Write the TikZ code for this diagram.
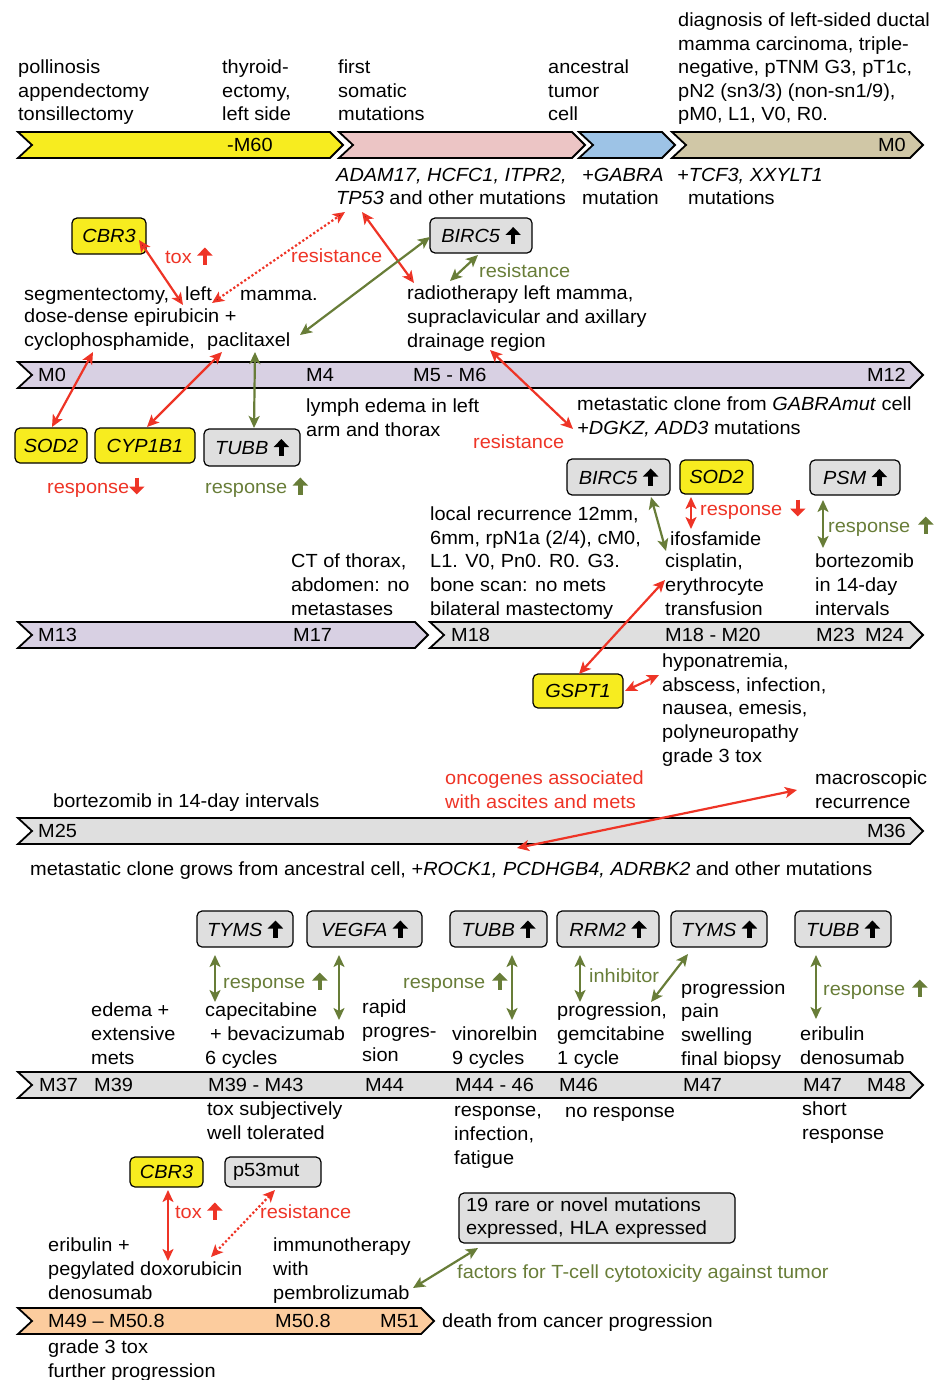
\documentclass[tikz,border=0pt]{standalone}
\usepackage{fontspec}
\setmainfont[FakeStretch=1.05]{Liberation Sans}
\usetikzlibrary{arrows.meta}
\definecolor{cyel}{RGB}{247,236,31}
\definecolor{cpink}{RGB}{236,197,197}
\definecolor{cblue}{RGB}{157,195,230}
\definecolor{ctan}{RGB}{208,199,166}
\definecolor{clav}{RGB}{216,208,227}
\definecolor{cgray}{RGB}{223,223,223}
\definecolor{cpeach}{RGB}{252,204,158}
\definecolor{cred}{RGB}{238,52,38}
\definecolor{cgreen}{RGB}{104,125,56}
\newcommand\uparr[1]{\tikz[baseline=0pt,x=1pt,y=1pt]\draw[#1,line width=4.4pt,-{Triangle[length=8pt,width=15pt]}](0,-1.5)--(0,15.5);}
\newcommand\dnarr[1]{\tikz[baseline=0pt,x=1pt,y=1pt]\draw[#1,line width=4.4pt,-{Triangle[length=8pt,width=15pt]}](0,15.5)--(0,-1.5);}
\newcommand\chevron[4]{\draw[barline,fill=#4] (#1,#3) -- (#2,#3) -- ({#2+13},{#3+13}) -- (#2,{#3+26}) -- (#1,{#3+26}) -- ({#1+14},{#3+13}) -- cycle;}
\begin{document}
\begin{tikzpicture}[x=1pt,y=-1pt,font=\fontsize{19}{23.6}\selectfont,
  txt/.style={anchor=base west,inner sep=0pt,align=left},
  rtxt/.style={anchor=base east,inner sep=0pt},
  barline/.style={draw=black,line width=1.8pt,line join=miter},
  box/.style={draw=black,rounded corners=5pt,line width=1.2pt,inner sep=0pt},
  ybox/.style={box,fill=cyel},
  gbox/.style={box,fill=cgray},
  dar/.style={line width=2.2pt,{Stealth[length=12pt,width=11pt,inset=3pt]}-{Stealth[length=12pt,width=11pt,inset=3pt]}},
  rarr/.style={dar,draw=cred},
  garr/.style={dar,draw=cgreen},
  darr/.style={rarr,dash pattern=on 2.2pt off 2.2pt},
  red/.style={text=cred},
  green/.style={text=cgreen}]
\useasboundingbox (0,0) rectangle (939,1380);

% multi-line text nodes are placed at the baseline of their LAST line
% ---------- row 1 ----------
\node[txt] (h1) at (18,121) {pollinosis\\appendectomy\\tonsillectomy};
\node[txt] (h2) at (222,121) {thyroid-\\ectomy,\\left side};
\node[txt] (h3) at (338,121) {first\\somatic\\mutations};
\node[txt] (h4) at (548,121) {ancestral\\tumor\\cell};
\node[txt] (h5) at (678,121) {diagnosis of left-sided ductal\\mamma carcinoma, triple-\\negative, pTNM G3, pT1c,\\pN2 (sn3/3) (non-sn1/9),\\pM0, L1, V0, R0.};
\chevron{18}{330}{132}{cyel}
\chevron{339}{572}{132}{cpink}
\chevron{579}{662}{132}{cblue}
\chevron{672}{910}{132}{ctan}
\node[txt] (l1) at (227,151.5) {-M60};
\node[rtxt] (l2) at (906,151.5) {M0};
\node[txt] (m1) at (336,205) {\textit{ADAM17, HCFC1, ITPR2,}\\\textit{TP53} and other mutations};
\node[txt] (m2) at (582,205) {\textit{+GABRA}\\mutation};
\node[txt] (m3) at (677,205) {\textit{+TCF3, XXYLT1}\\\hspace{11pt}mutations};

% ---------- row 2 ----------
\node[ybox,minimum width=74pt,minimum height=36pt] (cbr3a) at (109,236) {\textit{CBR3}};
\node[gbox,minimum width=102pt,minimum height=35pt] (birc5a) at (481,235.5) {\textit{BIRC5} \uparr{black}};
\node[txt,red] (tox1) at (165,263) {tox \uparr{cred}};
\node[txt,red] (res1) at (291,262) {resistance};
\node[txt,green] (res2) at (479,277) {resistance};
\node[txt] (s1) at (24,300) {segmentectomy,};
\node[txt] (s2) at (185,300) {left};
\node[txt] (s3) at (240,300) {mamma.};
\node[txt] (s4) at (24,322) {dose-dense epirubicin +};
\node[txt] (s5) at (24,346) {cyclophosphamide,};
\node[txt] (s6) at (207,346) {paclitaxel};
\node[txt] (rt) at (407,347) {radiotherapy left mamma,\\supraclavicular and axillary\\drainage region};

\coordinate (a1s) at (139,240); \coordinate (a1e) at (183,305);
\coordinate (a2s) at (212,303); \coordinate (a2e) at (345,212);
\coordinate (a3s) at (362,212); \coordinate (a3e) at (414,283);
\coordinate (a4s) at (300,335); \coordinate (a4e) at (430,237);
\coordinate (a5s) at (450,281); \coordinate (a5e) at (478,255);
\draw[rarr] (a1s) -- (a1e);
\draw[darr] (a2s) -- (a2e);
\draw[rarr] (a3s) -- (a3e);
\draw[garr] (a4s) -- (a4e);
\draw[garr] (a5s) -- (a5e);

\chevron{18}{910}{362}{clav}
\node[txt] (b1) at (38,381.5) {M0};
\node[txt] (b2) at (306,381.5) {M4};
\node[txt] (b3) at (413,381.5) {M5 - M6};
\node[rtxt] (b4) at (906,381.5) {M12};

\node[ybox,minimum width=72pt,minimum height=35pt] (sod2a) at (51,445.5) {\textit{SOD2}};
\node[ybox,minimum width=100pt,minimum height=35pt] (cyp) at (145,445.5) {\textit{CYP1B1}};
\node[gbox,minimum width=96pt,minimum height=37pt] (tubba) at (252,447.5) {\textit{TUBB} \uparr{black}};
\coordinate (a6s) at (93,352); \coordinate (a6e) at (52,427);
\coordinate (a7s) at (222,352); \coordinate (a7e) at (147,427);
\coordinate (a8s) at (255,352); \coordinate (a8e) at (254,428);
\coordinate (a9s) at (490,350); \coordinate (a9e) at (573,429);
\draw[rarr] (a6s) -- (a6e);
\draw[rarr] (a7s) -- (a7e);
\draw[garr] (a8s) -- (a8e);
\draw[rarr] (a9s) -- (a9e);
\node[txt,red] (rs1) at (47,493) {response\dnarr{cred}};
\node[txt,green] (rs2) at (205,493) {response \uparr{cgreen}};
\node[txt] (ly) at (306,436) {lymph edema in left\\arm and thorax};
\node[txt,red] (res3) at (473,448) {resistance};
\node[txt] (mc) at (577,434) {metastatic clone from \textit{GABRAmut} cell\\\textit{+DGKZ, ADD3} mutations};

% ---------- row 3 ----------
\node[gbox,minimum width=103pt,minimum height=36pt] (birc5b) at (618.5,477) {\textit{BIRC5} \uparr{black}};
\node[ybox,minimum width=73pt,minimum height=34pt] (sod2b) at (716.5,477) {\textit{SOD2}};
\node[gbox,minimum width=90pt,minimum height=35pt] (psm) at (855,477.5) {\textit{PSM} \uparr{black}};
\coordinate (b1s) at (651,497); \coordinate (b1e) at (666,551);
\coordinate (b2s) at (691,497); \coordinate (b2e) at (691,529);
\coordinate (b3s) at (823,500); \coordinate (b3e) at (823,548);
\draw[garr] (b1s) -- (b1e);
\draw[rarr] (b2s) -- (b2e);
\draw[garr] (b3s) -- (b3e);
\node[txt,red] (rs3) at (700,515) {response\hspace{8pt}\dnarr{cred}};
\node[txt,green] (rs4) at (828,532) {response\hspace{8pt}\uparr{cgreen}};
\node[txt] (lr) at (430,615) {local recurrence 12mm,\\6mm, rpN1a (2/4), cM0,\\L1. V0, Pn0. R0. G3.\\bone scan: no mets\\bilateral mastectomy};
\node[txt] (ct) at (291,615) {CT of thorax,\\abdomen: no\\metastases};
\node[txt] (if) at (670,545) {ifosfamide};
\node[txt] (cis) at (665,615) {cisplatin,\\erythrocyte\\transfusion};
\node[txt] (bz) at (815,615) {bortezomib\\in 14-day\\intervals};

\chevron{18}{415}{622}{clav}
\chevron{430}{910}{622}{cgray}
\node[txt] (c1) at (38,641.5) {M13};
\node[txt] (c2) at (293,641.5) {M17};
\node[txt] (c3) at (451,641.5) {M18};
\node[txt] (c4) at (665,641.5) {M18 - M20};
\node[txt] (c5) at (816,641.5) {M23};
\node[txt] (c6) at (865,641.5) {M24};

\node[ybox,minimum width=90pt,minimum height=34pt] (gspt) at (578,691) {\textit{GSPT1}};
\coordinate (c7s) at (665,580); \coordinate (c7e) at (579,674);
\coordinate (c8s) at (625,691); \coordinate (c8e) at (659,675);
\draw[rarr] (c7s) -- (c7e);
\draw[rarr] (c8s) -- (c8e);
\node[txt] (hy) at (662,762) {hyponatremia,\\abscess, infection,\\nausea, emesis,\\polyneuropathy\\grade 3 tox};

% ---------- row 4 ----------
\node[txt] (bz2) at (53,807) {bortezomib in 14-day intervals};
\node[txt,red] (onc) at (445,808) {oncogenes associated\\with ascites and mets};
\node[txt] (mr) at (815,808) {macroscopic\\recurrence};
\chevron{18}{910}{818}{cgray}
\node[txt] (d1) at (38,837.5) {M25};
\node[rtxt] (d2) at (906,837.5) {M36};
\coordinate (d3s) at (797,790); \coordinate (d3e) at (517,848);
\draw[rarr] (d3s) -- (d3e);
\node[txt] (mcg) at (30,875) {metastatic clone grows from ancestral cell, +\textit{ROCK1, PCDHGB4, ADRBK2} and other mutations};

% ---------- row 5 ----------
\node[gbox,minimum width=96pt,minimum height=36pt] (tyms1) at (245,929) {\textit{TYMS} \uparr{black}};
\node[gbox,minimum width=115pt,minimum height=36pt] (vegfa) at (364.5,929) {\textit{VEGFA} \uparr{black}};
\node[gbox,minimum width=97pt,minimum height=36pt] (tubb2) at (498.5,929) {\textit{TUBB} \uparr{black}};
\node[gbox,minimum width=102pt,minimum height=36pt] (rrm2) at (608,929) {\textit{RRM2} \uparr{black}};
\node[gbox,minimum width=96pt,minimum height=36pt] (tyms2) at (719,929) {\textit{TYMS} \uparr{black}};
\node[gbox,minimum width=96pt,minimum height=36pt] (tubb3) at (843,929) {\textit{TUBB} \uparr{black}};
\coordinate (e1s) at (215,955); \coordinate (e1e) at (215,1002);
\coordinate (e2s) at (339,955); \coordinate (e2e) at (339,1020);
\coordinate (e3s) at (512,955); \coordinate (e3e) at (512,1020);
\coordinate (e4s) at (580,955); \coordinate (e4e) at (580,1002);
\coordinate (e5s) at (688,954); \coordinate (e5e) at (651,1002);
\coordinate (e6s) at (816,955); \coordinate (e6e) at (816,1019);
\draw[garr] (e1s) -- (e1e);
\draw[garr] (e2s) -- (e2e);
\draw[garr] (e3s) -- (e3e);
\draw[garr] (e4s) -- (e4e);
\draw[garr] (e5s) -- (e5e);
\draw[garr] (e6s) -- (e6e);
\node[txt,green] (rs5) at (223,988) {response\hspace{7pt}\uparr{cgreen}};
\node[txt,green] (rs6) at (403,988) {response\hspace{7pt}\uparr{cgreen}};
\node[txt,green] (inh) at (589,982) {inhibitor};
\node[txt,green] (rs7) at (823,995) {response\hspace{7pt}\uparr{cgreen}};
\node[txt] (ed) at (91,1064) {edema +\\extensive\\mets};
\node[txt] (cap) at (205,1064) {capecitabine\\\hspace{5pt}+ bevacizumab\\6 cycles};
\node[txt] (rp) at (362,1061) {rapid\\progres-\\sion};
\node[txt] (vin) at (452,1064) {vinorelbin\\9 cycles};
\node[txt] (gem) at (557,1064) {progression,\\gemcitabine\\1 cycle};
\node[txt] (pp) at (681,1065) {progression\\pain\\swelling\\final biopsy};
\node[txt] (eri) at (800,1064) {eribulin\\denosumab};
\chevron{18}{910}{1072}{cgray}
\node[txt] (f1) at (39,1091) {M37};
\node[txt] (f2) at (94,1091) {M39};
\node[txt] (f3) at (208,1091) {M39 - M43};
\node[txt] (f4) at (365,1091) {M44};
\node[txt] (f5) at (455,1091) {M44 - 46};
\node[txt] (f6) at (559,1091) {M46};
\node[txt] (f7) at (683,1091) {M47};
\node[txt] (f8) at (803,1091) {M47};
\node[txt] (f9) at (867,1091) {M48};
\node[txt] (tx) at (207,1139) {tox subjectively\\well tolerated};
\node[txt] (ri) at (454,1164) {response,\\infection,\\fatigue};
\node[txt] (nr) at (565,1117) {no response};
\node[txt] (sr) at (802,1139) {short\\response};

% ---------- row 6 ----------
\node[ybox,minimum width=73pt,minimum height=30pt] (cbr3b) at (166.5,1172) {\textit{CBR3}};
\node[gbox,minimum width=96pt,minimum height=30pt,text width=80pt,align=left] (p53) at (273,1172) {p53mut};
\coordinate (g1s) at (168,1190); \coordinate (g1e) at (168,1261);
\coordinate (g2s) at (275,1190); \coordinate (g2e) at (211,1257);
\draw[rarr] (g1s) -- (g1e);
\draw[darr] (g2s) -- (g2e);
\node[txt,red] (tox2) at (175,1218) {tox \uparr{cred}};
\node[txt,red] (res4) at (260,1218) {resistance};
\node[txt] (ep) at (48,1299) {eribulin +\\pegylated doxorubicin\\denosumab};
\node[txt] (im) at (273,1299) {immunotherapy\\with\\pembrolizumab};
\node[gbox,minimum width=276pt,minimum height=50pt,text width=262pt,align=left] (hla) at (597,1218) {19 rare or novel mutations\\expressed, HLA expressed};
\coordinate (g3s) at (478,1248); \coordinate (g3e) at (413,1288);
\draw[garr] (g3s) -- (g3e);
\node[txt,green] (fac) at (457,1278) {factors for T-cell cytotoxicity against tumor};
\chevron{18}{421}{1308}{cpeach}
\node[txt] (k1) at (48,1327.5) {M49 – M50.8};
\node[txt] (k2) at (275,1327.5) {M50.8};
\node[txt] (k3) at (380,1327.5) {M51};
\node[txt] (death) at (442,1327) {death from cancer progression};
\node[txt] (g3t) at (48,1377) {grade 3 tox\\further progression};
\end{tikzpicture}
\end{document}
